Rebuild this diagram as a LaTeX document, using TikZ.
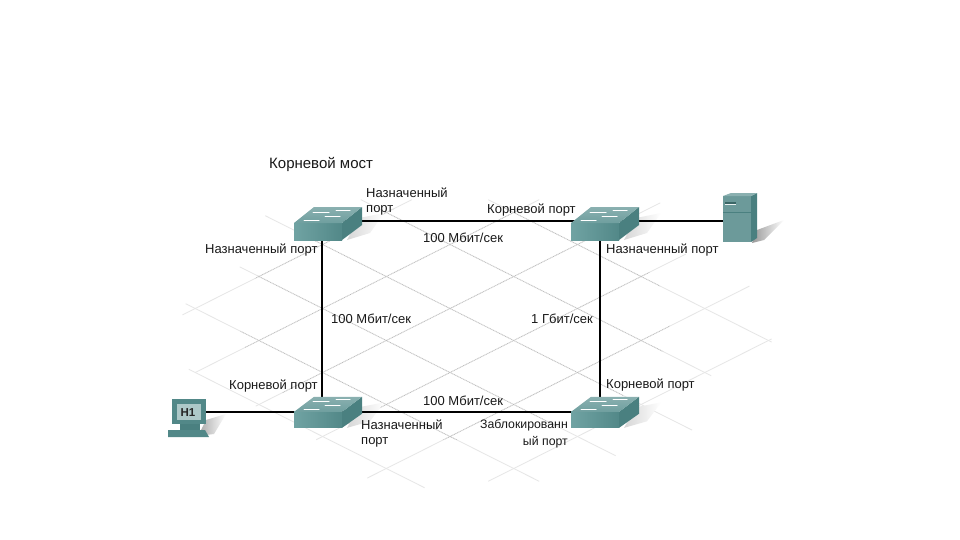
\documentclass[tikz,border=0pt]{standalone}
\usepackage{fontspec}
\setmainfont{Liberation Sans}
\definecolor{swtopa}{HTML}{6F9F9F}
\definecolor{swtopb}{HTML}{8AB0B0}
\definecolor{swfronta}{HTML}{70A3A3}
\definecolor{swfrontb}{HTML}{528888}
\definecolor{swside}{HTML}{4A8080}
\definecolor{gridlight}{HTML}{E6E6E6}
\definecolor{griddark}{HTML}{B8B8B8}
\newcommand\gridpt[2]{({450+63.7*((#1)-(#2))},{308.5+32*((#1)+(#2))})}
\tikzset{
  x=1pt,y=-1pt,
  lbl/.style={font=\fontsize{13}{16}\selectfont,inner sep=0pt,text=black!90},
  lblsmall/.style={font=\fontsize{12.3}{16}\selectfont,inner sep=0pt,text=black!90},
  link/.style={line width=1.8pt,black},
  anchorpt/.style={inner sep=0pt,minimum size=0pt},
  pics/switchshadow/.style={code={
    \shade[left color=black!16,right color=white] (37,-3) -- (62,-8) -- (48,12) -- (25,19) -- cycle;
  }},
  pics/switchbox/.style={code={
    \shade[left color=swfronta,right color=swfrontb] (-28,2) -- (20,2) -- (20,19) -- (-28,19) -- cycle;
    \fill[swside] (20,2) -- (40,-14) -- (40,4) -- (20,19) -- cycle;
    \shade[bottom color=swtopa,top color=swtopb] (-28,2) -- (-8,-14) -- (40,-14) -- (20,2) -- cycle;
    \draw[white,line width=1pt,line cap=round]
      (-18,-1) -- (-3,-1) (3,-5) -- (18,-5) (-9,-9) -- (7,-9) (14,-11) -- (28,-11);
  }}
}
\begin{document}
\begin{tikzpicture}
\useasboundingbox (0,0) rectangle (960,540);
\fill[white] (0,0) rectangle (960,540);
% floor grid: faint everywhere, darker and dotted in the middle
\foreach \i/\a/\b in {-2/-1.4/2.2,-1/-2.4/3,0/-3.3/3.05,1/-2.7/3.1,2/-2.7/3.3,3/-2.05/2.4}
  \draw[gridlight,line width=.8pt] \gridpt{\i}{\a} -- \gridpt{\i}{\b};
\foreach \j/\a/\b in {-2/-1.4/3.05,-1/-2.4/3.1,0/-2.9/3.8,1/-2.3/3.6,2/-2.15/3.4,3/-1.1/2.6}
  \draw[gridlight,line width=.8pt] \gridpt{\a}{\j} -- \gridpt{\b}{\j};
\begin{scope}
\clip (455,322) ellipse (215 and 118);
\foreach \i/\a/\b in {-2/-1.4/2.2,-1/-2.4/3,0/-3.3/3.05,1/-2.7/3.1,2/-2.7/3.3,3/-2.05/2.4}
  \draw[griddark,line width=.7pt,densely dotted] \gridpt{\i}{\a} -- \gridpt{\i}{\b};
\foreach \j/\a/\b in {-2/-1.4/3.05,-1/-2.4/3.1,0/-2.9/3.8,1/-2.3/3.6,2/-2.15/3.4,3/-1.1/2.6}
  \draw[griddark,line width=.7pt,densely dotted] \gridpt{\a}{\j} -- \gridpt{\b}{\j};
\end{scope}
% anchors
\node[anchorpt] (sw1) at (322,221) {};
\node[anchorpt] (sw2) at (600,221) {};
\node[anchorpt] (sw3) at (322,412) {};
\node[anchorpt] (sw4) at (600,412) {};
\node[anchorpt] (srv) at (735,221) {};
\node[anchorpt] (pc) at (190,412) {};
% shadows lie under the links
\pic at (sw1) {switchshadow};
\pic at ([xshift=-1pt]sw2) {switchshadow};
\pic[yscale=.94] at ([yshift=2pt]sw3) {switchshadow};
\pic[yscale=.94] at ([xshift=-1pt,yshift=2pt]sw4) {switchshadow};
% links
\draw[link] (sw1) -- (sw2);
\draw[link] (sw2) -- (srv);
\draw[link] (sw1) -- (sw3);
\draw[link] (sw2) -- (sw4);
\draw[link] (sw3) -- (sw4);
\draw[link] (pc) -- (sw3);
% devices
\pic at (sw1) {switchbox};
\pic at ([xshift=-1pt]sw2) {switchbox};
\pic[yscale=.94] at ([yshift=2pt]sw3) {switchbox};
\pic[yscale=.94] at ([xshift=-1pt,yshift=2pt]sw4) {switchbox};
% server
\shade[left color=black!40,right color=white] (757,230) -- (784,220) -- (764,240) -- (752,243) -- cycle;
\fill[swfrontb!85!white] (723,196) -- (751,196) -- (751,242) -- (723,242) -- cycle;
\fill[swside] (751,196) -- (757,193) -- (757,238) -- (751,242) -- cycle;
\fill[swtopb] (723,196) -- (731,193) -- (757,193) -- (751,196) -- cycle;
\fill[swside!80!black] (725,202) rectangle (736,203.5);
\fill[white!85!swfronta] (725,203.5) rectangle (736,205);
\draw[swside,line width=.5pt] (723,212) -- (751,212);
% PC
\shade[left color=black!35,right color=white] (206,420) -- (226,414) -- (214,434) -- (198,436) -- cycle;
\fill[swfrontb] (172,399) -- (206,399) -- (206,424) -- (172,424) -- cycle;
\fill[swtopb!70!white] (177,404) rectangle (201,420);
\fill[swside] (180,424) rectangle (200,430);
\fill[swfrontb] (168,430) -- (205,430) -- (209,437) -- (168,437) -- cycle;
\node[font=\fontsize{11.5}{14}\selectfont\bfseries,inner sep=0pt,text=black!85] (h1) at (188,413) {H1};
% labels
\node[lbl,anchor=west,font=\fontsize{15}{16}\selectfont] (root) at (269,164) {Корневой мост};
\node[lbl,anchor=west] (a1) at (366,193) {Назначенный};
\node[lbl,anchor=west] (a2) at (366,210) {порт};
\node[lbl,anchor=west] (a3) at (487,210) {Корневой порт};
\node[lbl,anchor=west] (a4) at (423,238) {100 Мбит/сек};
\node[lbl,anchor=west] (a5) at (205,250) {Назначенный порт};
\node[lbl,anchor=west] (a6) at (606,250) {Назначенный порт};
\node[lbl,anchor=west] (a7) at (331,319) {100 Мбит/сек};
\node[lbl,anchor=west] (a8) at (531,319) {1 Гбит/сек};
\node[lbl,anchor=west] (a9) at (229,386) {Корневой порт};
\node[lbl,anchor=west] (a10) at (606,385) {Корневой порт};
\node[lbl,anchor=west] (a11) at (423,401) {100 Мбит/сек};
\node[lbl,anchor=west] (a12) at (361,425) {Назначенный};
\node[lbl,anchor=west] (a13) at (361,442) {порт};
\node[lblsmall,anchor=east] (a14) at (568,425) {Заблокированн};
\node[lblsmall,anchor=east] (a15) at (568,442) {ый порт};
\end{tikzpicture}
\end{document}
